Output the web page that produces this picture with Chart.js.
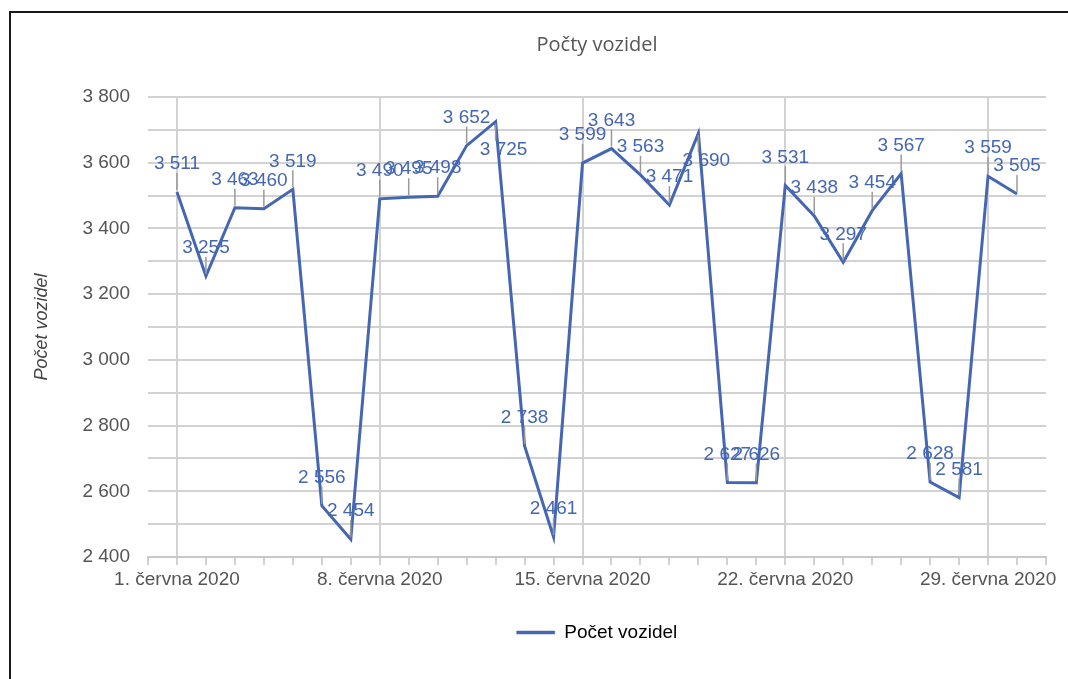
<!DOCTYPE html>
<html>
<head>
<meta charset="utf-8">
<script src="https://cdn.jsdelivr.net/npm/chart.js@4.4.0/dist/chart.umd.min.js"></script>
<style>
  html, body { margin: 0; padding: 0; background: #fff; }
  #wrap { position: relative; width: 1068px; height: 679px; overflow: hidden; }
  #frame { position: absolute; left: 9px; top: 11px; width: 1100px; height: 700px;
           border-left: 2px solid #1a1a1a; border-top: 2px solid #1a1a1a; pointer-events: none; }
  canvas { position: absolute; left: 0; top: 0; }
</style>
</head>
<body>
<div id="wrap">
  <canvas id="c" width="1068" height="679"></canvas>
  <div id="frame"></div>
</div>
<script>
// ---- data ----
const days = [1,2,3,4,5,6,7,8,9,10,11,12,13,14,15,16,17,18,19,20,21,22,23,24,25,26,27,28,29,30];
const counts = [3511,3255,3463,3460,3519,2556,2454,3490,3495,3498,3652,3725,2738,2461,3599,3643,3563,3471,3690,2627,2626,3531,3438,3297,3454,3567,2628,2581,3559,3505];
const xTickDays = [1, 8, 15, 22, 29];
const xTickLabels = ['1. června 2020', '8. června 2020', '15. června 2020', '22. června 2020', '29. června 2020'];
const seriesName = 'Počet vozidel';
const chartTitle = 'Počty vozidel';
const yTitle = 'Počet vozidel';

const fmt = v => String(v).replace(/\B(?=(\d{3})+(?!\d))/g, ' ');
const BLUE = '#4567b2';
const GRID = '#d2d2d2';
const FONT = '"Liberation Sans", Arial, sans-serif';

const dataLabels = {
  id: 'dataLabels',
  afterDatasetsDraw(chart) {
    const ctx = chart.ctx;
    const meta = chart.getDatasetMeta(0);
    const top = chart.chartArea.top;
    ctx.save();
    ctx.font = '19px ' + FONT;
    ctx.textAlign = 'center';
    ctx.textBaseline = 'middle';
    meta.data.forEach((pt, i) => {
      const x = pt.x, y = pt.y;
      const below = (y - 28) < top + 15;
      const dir = below ? 1 : -1;
      ctx.strokeStyle = '#9a9a9a';
      ctx.lineWidth = 1.5;
      ctx.beginPath();
      ctx.moveTo(x, y + dir * 2);
      ctx.lineTo(x, y + dir * 19);
      ctx.stroke();
      ctx.fillStyle = BLUE;
      ctx.fillText(fmt(counts[i]), x + (below ? 8 : 0), y + dir * 28);
    });
    ctx.restore();
  }
};

new Chart(document.getElementById('c'), {
  type: 'line',
  data: {
    datasets: [{
      label: seriesName,
      data: days.map((d, i) => ({ x: d, y: counts[i] })),
      borderColor: BLUE,
      backgroundColor: BLUE,
      borderWidth: 3,
      pointRadius: 0,
      tension: 0
    }]
  },
  options: {
    responsive: false,
    animation: false,
    layout: { padding: { left: 0, right: 22, top: 0, bottom: 27 } },
    plugins: {
      title: {
        display: true,
        text: chartTitle,
        fullSize: false,
        color: '#555',
        font: { family: '"Open Sans", sans-serif', size: 20, weight: 'normal' },
        padding: { top: 33, bottom: 40 }
      },
      legend: {
        display: true,
        position: 'bottom',
        fullSize: false,
        labels: {
          color: '#444',
          font: { family: FONT, size: 19 },
          boxWidth: 38,
          boxHeight: 3,
          padding: 10,
          generateLabels: () => [{ text: seriesName, fillStyle: BLUE, strokeStyle: BLUE, lineWidth: 0.5, hidden: false, datasetIndex: 0 }]
        }
      },
      tooltip: { enabled: false }
    },
    scales: {
      x: {
        type: 'linear',
        min: 0,
        max: 31,
        afterFit: s => { s.height = 56; },
        afterBuildTicks: s => { s.ticks = Array.from({ length: 32 }, (_, i) => ({ value: i })); },
        ticks: {
          autoSkip: false,
          maxRotation: 0,
          minRotation: 0,
          padding: 3,
          color: '#555',
          font: { family: FONT, size: 19 },
          callback: v => { const k = xTickDays.indexOf(v); return k >= 0 ? xTickLabels[k] : ''; }
        },
        grid: {
          color: c => (c.tick && xTickDays.includes(c.tick.value)) ? GRID : 'rgba(0,0,0,0)',
          tickColor: GRID,
          lineWidth: 2,
          tickLength: 8,
          drawTicks: true
        },
        border: { display: true, color: '#c8c8c8', width: 2 }
      },
      y: {
        min: 2400,
        max: 3800,
        afterFit: s => { s.width = 148; },
        ticks: {
          stepSize: 100,
          padding: 18,
          color: '#555',
          font: { family: FONT, size: 19 },
          callback: v => (v % 200 === 0 ? fmt(v) : '')
        },
        grid: { color: GRID, lineWidth: 2, drawTicks: false },
        border: { display: false },
        title: {
          display: true,
          text: yTitle,
          color: '#444',
          font: { family: FONT, size: 18, style: 'italic' },
          padding: { top: 31, bottom: 4 }
        }
      }
    }
  },
  plugins: [dataLabels]
});
</script>
</body>
</html>
